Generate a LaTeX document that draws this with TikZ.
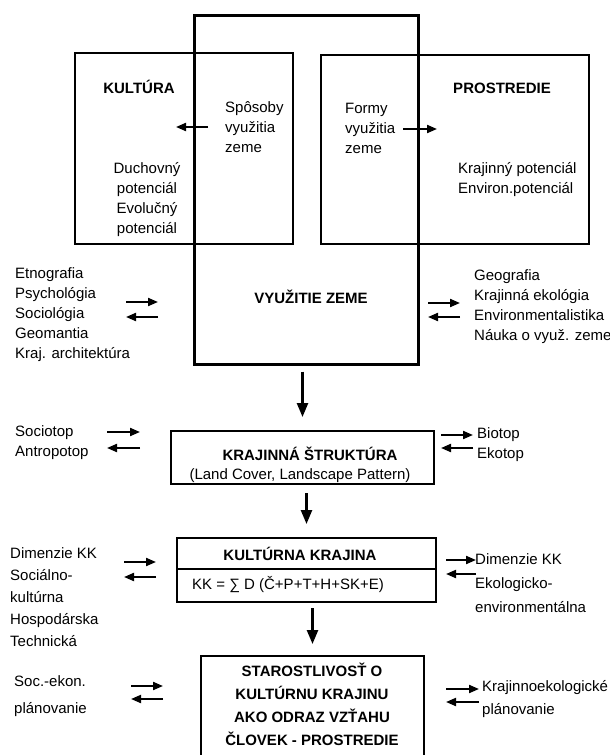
\documentclass[tikz,border=0pt]{standalone}
\usepackage{fontspec}
\setmainfont{Liberation Sans}
\usetikzlibrary{arrows.meta}

\tikzset{
  box/.style={draw, line width=2pt, inner sep=0pt},
  txt/.style={inner sep=0pt, font=\fontsize{15}{20}\selectfont},
  head/.style={inner sep=0pt, font=\fontsize{15}{20}\selectfont\bfseries},
  arr/.style={line width=2pt, -{Triangle[length=10pt,width=8pt]}},
  down/.style={line width=2.5pt, -{Triangle[length=14pt,width=11pt]}},
}

% pair of opposite arrows: name, left x, right x, upper y, lower y
\newcommand{\twoway}[5]{%
  \coordinate (#1l1) at (#2,#4); \coordinate (#1r1) at (#3,#4);
  \coordinate (#1l2) at (#2,#5); \coordinate (#1r2) at (#3,#5);
  \draw[arr] (#1l1) -- (#1r1);
  \draw[arr] (#1r2) -- (#1l2);
}

\begin{document}
\begin{tikzpicture}[x=1pt,y=-1pt]
  \useasboundingbox (0,0) rectangle (610,755);

  % boxes
  \node[box, minimum width=218pt, minimum height=191pt] (cult) at (184,148.5) {};
  \node[box, minimum width=268pt, minimum height=189pt] (envbox) at (455,149.5) {};
  \node[box, line width=3pt, minimum width=224pt, minimum height=349pt] (use) at (306,189.5) {};
  \node[box, minimum width=263pt, minimum height=53pt] (kraj) at (302.5,457.5) {};
  \node[box, minimum width=259pt, minimum height=64pt] (kk) at (306.5,570) {};
  \draw[line width=1.6pt] (kk.west |- 0,569) -- (kk.east |- 0,569);
  \node[box, minimum width=223pt, minimum height=123pt] (care) at (312.5,717.5) {};

  % texts in the top boxes
  \node[head] (culttxt) at (139,87) {KULTÚRA};
  \node[txt, anchor=west, align=left] (ways) at (225,127) {Spôsoby\\využitia\\zeme};
  \node[txt, align=center] (spirit) at (147,200) {Duchovný\\potenciál\\Evolučný\\potenciál};
  \node[txt, anchor=west, align=left] (forms) at (345,128) {Formy\\využitia\\zeme};
  \node[head] (envtxt) at (502,88) {PROSTREDIE};
  \node[txt, anchor=west, align=left] (pot) at (458,180) {Krajinný potenciál\\Environ.potenciál};
  \node[head] (usetxt) at (311,297) {VYUŽITIE ZEME};

  \coordinate (waysa) at (208,127); \coordinate (waysb) at (176,127);
  \draw[arr] (waysa) -- (waysb);
  \coordinate (formsa) at (403,129); \coordinate (formsb) at (437,129);
  \draw[arr] (formsa) -- (formsb);

  % sciences
  \node[txt, anchor=west, align=left] (humsci) at (15,315)
    {Etnografia\\Psychológia\\Sociológia\\Geomantia\\Kraj. architektúra};
  \node[txt, anchor=west, align=left] (natsci) at (474,307)
    {Geografia\\Krajinná ekológia\\Environmentalistika\\Náuka o využ. zeme};
  \twoway{hum}{126}{158}{302}{317}
  \twoway{nat}{428}{460}{303}{317}

  % landscape structure
  \node[head] (krajtxt) at (310,454) {KRAJINNÁ ŠTRUKTÚRA};
  \node[txt] (cover) at (300,476) {(Land Cover, Landscape Pattern)};
  \node[txt, anchor=west, align=left] (socio) at (15,443) {Sociotop\\Antropotop};
  \node[txt, anchor=west, align=left] (bio) at (477,445) {Biotop\\Ekotop};
  \twoway{soc}{107}{140}{432}{448}
  \twoway{bio}{441}{473}{435}{448}

  % cultural landscape
  \node[head] (kktxt) at (300,554) {KULTÚRNA KRAJINA};
  \node[txt, anchor=west] (formula) at (192,585) {KK = ∑ D (Č+P+T+H+SK+E)};
  \node[txt, anchor=west, align=left, font=\fontsize{15}{22}\selectfont] (dimsoc) at (10,597)
    {Dimenzie KK\\Sociálno-\\kultúrna\\Hospodárska\\Technická};
  \node[txt, anchor=west, align=left, font=\fontsize{15}{24}\selectfont] (dimeco) at (475,583)
    {Dimenzie KK\\Ekologicko-\\environmentálna};
  \twoway{dsoc}{124}{156}{562}{577}
  \twoway{deco}{446}{476}{560}{574}

  % care
  \node[head, align=center, font=\fontsize{15}{23}\selectfont\bfseries] (caretxt) at (312,704)
    {STAROSTLIVOSŤ O\\KULTÚRNU KRAJINU\\AKO ODRAZ VZŤAHU\\ČLOVEK - PROSTREDIE};
  \node[txt, anchor=west, align=left, font=\fontsize{15}{27}\selectfont] (socplan) at (14,696)
    {Soc.-ekon.\\plánovanie};
  \node[txt, anchor=west, align=left, font=\fontsize{15}{23}\selectfont] (ecoplan) at (482,699)
    {Krajinnoekologické\\plánovanie};
  \twoway{psoc}{131}{163}{686}{699}
  \twoway{peco}{446}{479}{689}{702}

  % main flow
  \draw[down, shorten <=6pt, shorten >=13pt] (use.south -| kraj.north) -- (kraj.north);
  \draw[down, shorten <=8pt, shorten >=13pt] (kraj.south -| kk.north) -- (kk.north);
  \draw[down, shorten <=5pt, shorten >=11pt] (kk.south -| care.north) -- (care.north);
\end{tikzpicture}
\end{document}
